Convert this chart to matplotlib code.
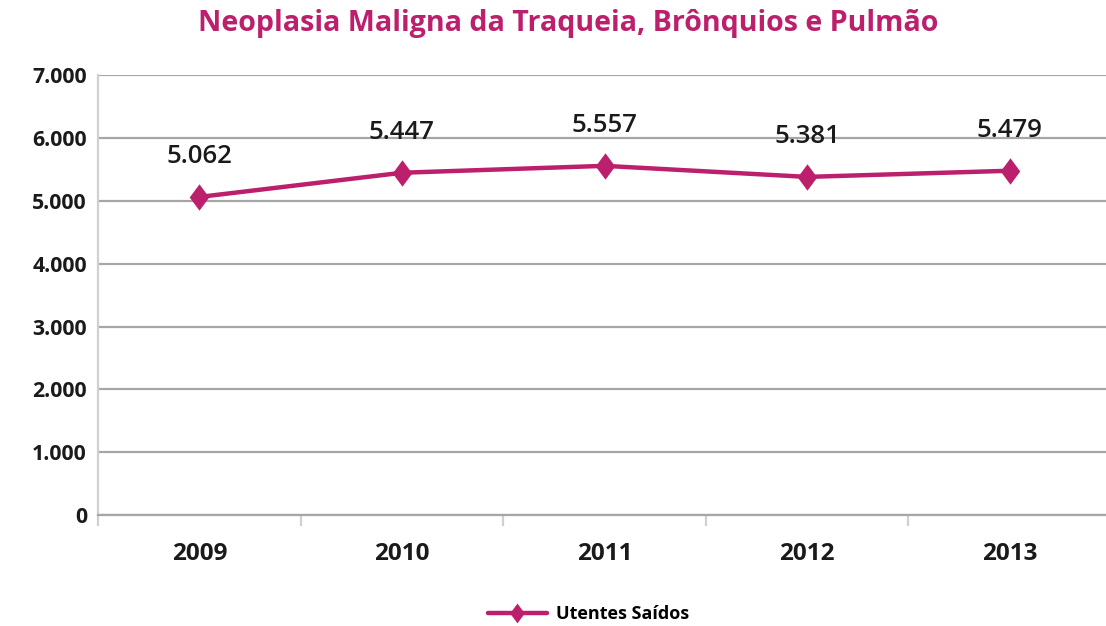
import numpy as np
import matplotlib
matplotlib.use("Agg")
import matplotlib.pyplot as plt
from matplotlib.path import Path
from matplotlib.ticker import FuncFormatter, FixedLocator

# ------------------------------------------------------------
# Data
# ------------------------------------------------------------
years = ["2009", "2010", "2011", "2012", "2013"]
utentes_saidos = [5062, 5447, 5557, 5381, 5479]
y_ticks = [0, 1000, 2000, 3000, 4000, 5000, 6000, 7000]

TITLE = "Neoplasia Maligna da Traqueia, Brônquios e Pulmão"
SERIES = "Utentes Saídos"
MAGENTA = "#BC1F6C"

plt.rcParams["font.family"] = ["Open Sans", "DejaVu Sans"]


def pt_fmt(v, _pos=None):
    # thousands separator as a dot
    return f"{int(round(v)):,}".replace(",", ".")


diamond = Path([(0, 1), (0.74, 0), (0, -1), (-0.74, 0), (0, 1)],
               [Path.MOVETO, Path.LINETO, Path.LINETO, Path.LINETO, Path.CLOSEPOLY])

fig = plt.figure(figsize=(11.06, 6.26), dpi=100)
ax = fig.add_axes([0.0886, 0.177, 0.916, 0.703])

x = np.arange(len(years))
ax.plot(x, utentes_saidos, color=MAGENTA, lw=3.2, marker=diamond,
        markersize=19, markeredgewidth=0, label=SERIES, zorder=3,
        solid_capstyle="round")

for xi, v in zip(x, utentes_saidos):
    ax.annotate(pt_fmt(v), (xi, v), xytext=(0, 29), textcoords="offset points",
                ha="center", va="center", fontsize=18.5, fontweight="semibold",
                color="#1a1a1a")

ax.set_xlim(-0.5, len(years) - 0.5)
ax.set_ylim(0, 7000)

ax.yaxis.set_major_locator(FixedLocator(y_ticks))
ax.yaxis.set_major_formatter(FuncFormatter(pt_fmt))
ax.grid(axis="y", color="#A6A6A6", lw=1.6, zorder=0)
ax.set_axisbelow(True)

for lab in ax.get_yticklabels():
    lab.set_fontweight("bold")
ax.tick_params(axis="y", length=0, pad=8, labelsize=15.3, labelcolor="#1a1a1a")

ax.set_xticks(x)
ax.set_xticklabels(years, fontsize=17.5, fontweight="bold", color="#1a1a1a")
ax.set_xticks(np.arange(-0.5, len(years) - 0.4, 1), minor=True)
ax.tick_params(axis="x", which="major", length=0, pad=19)
ax.tick_params(axis="x", which="minor", length=8, width=1.6, color="#D0D0D0")

for side in ["top", "right"]:
    ax.spines[side].set_visible(False)
ax.spines["left"].set_color("#D0D0D0")
ax.spines["left"].set_linewidth(1.6)
ax.spines["bottom"].set_color("#A6A6A6")
ax.spines["bottom"].set_linewidth(1.6)

fig.text(0.514, 0.962, TITLE, ha="center", va="center", fontsize=20.6,
         fontweight="bold", color=MAGENTA)

leg = fig.legend(loc="center", bbox_to_anchor=(0.532, 0.019), frameon=False,
                 prop={"size": 13, "weight": "bold"}, handlelength=3.3,
                 handletextpad=0.5, markerscale=0.75)

fig.savefig("out.png", dpi=100)
